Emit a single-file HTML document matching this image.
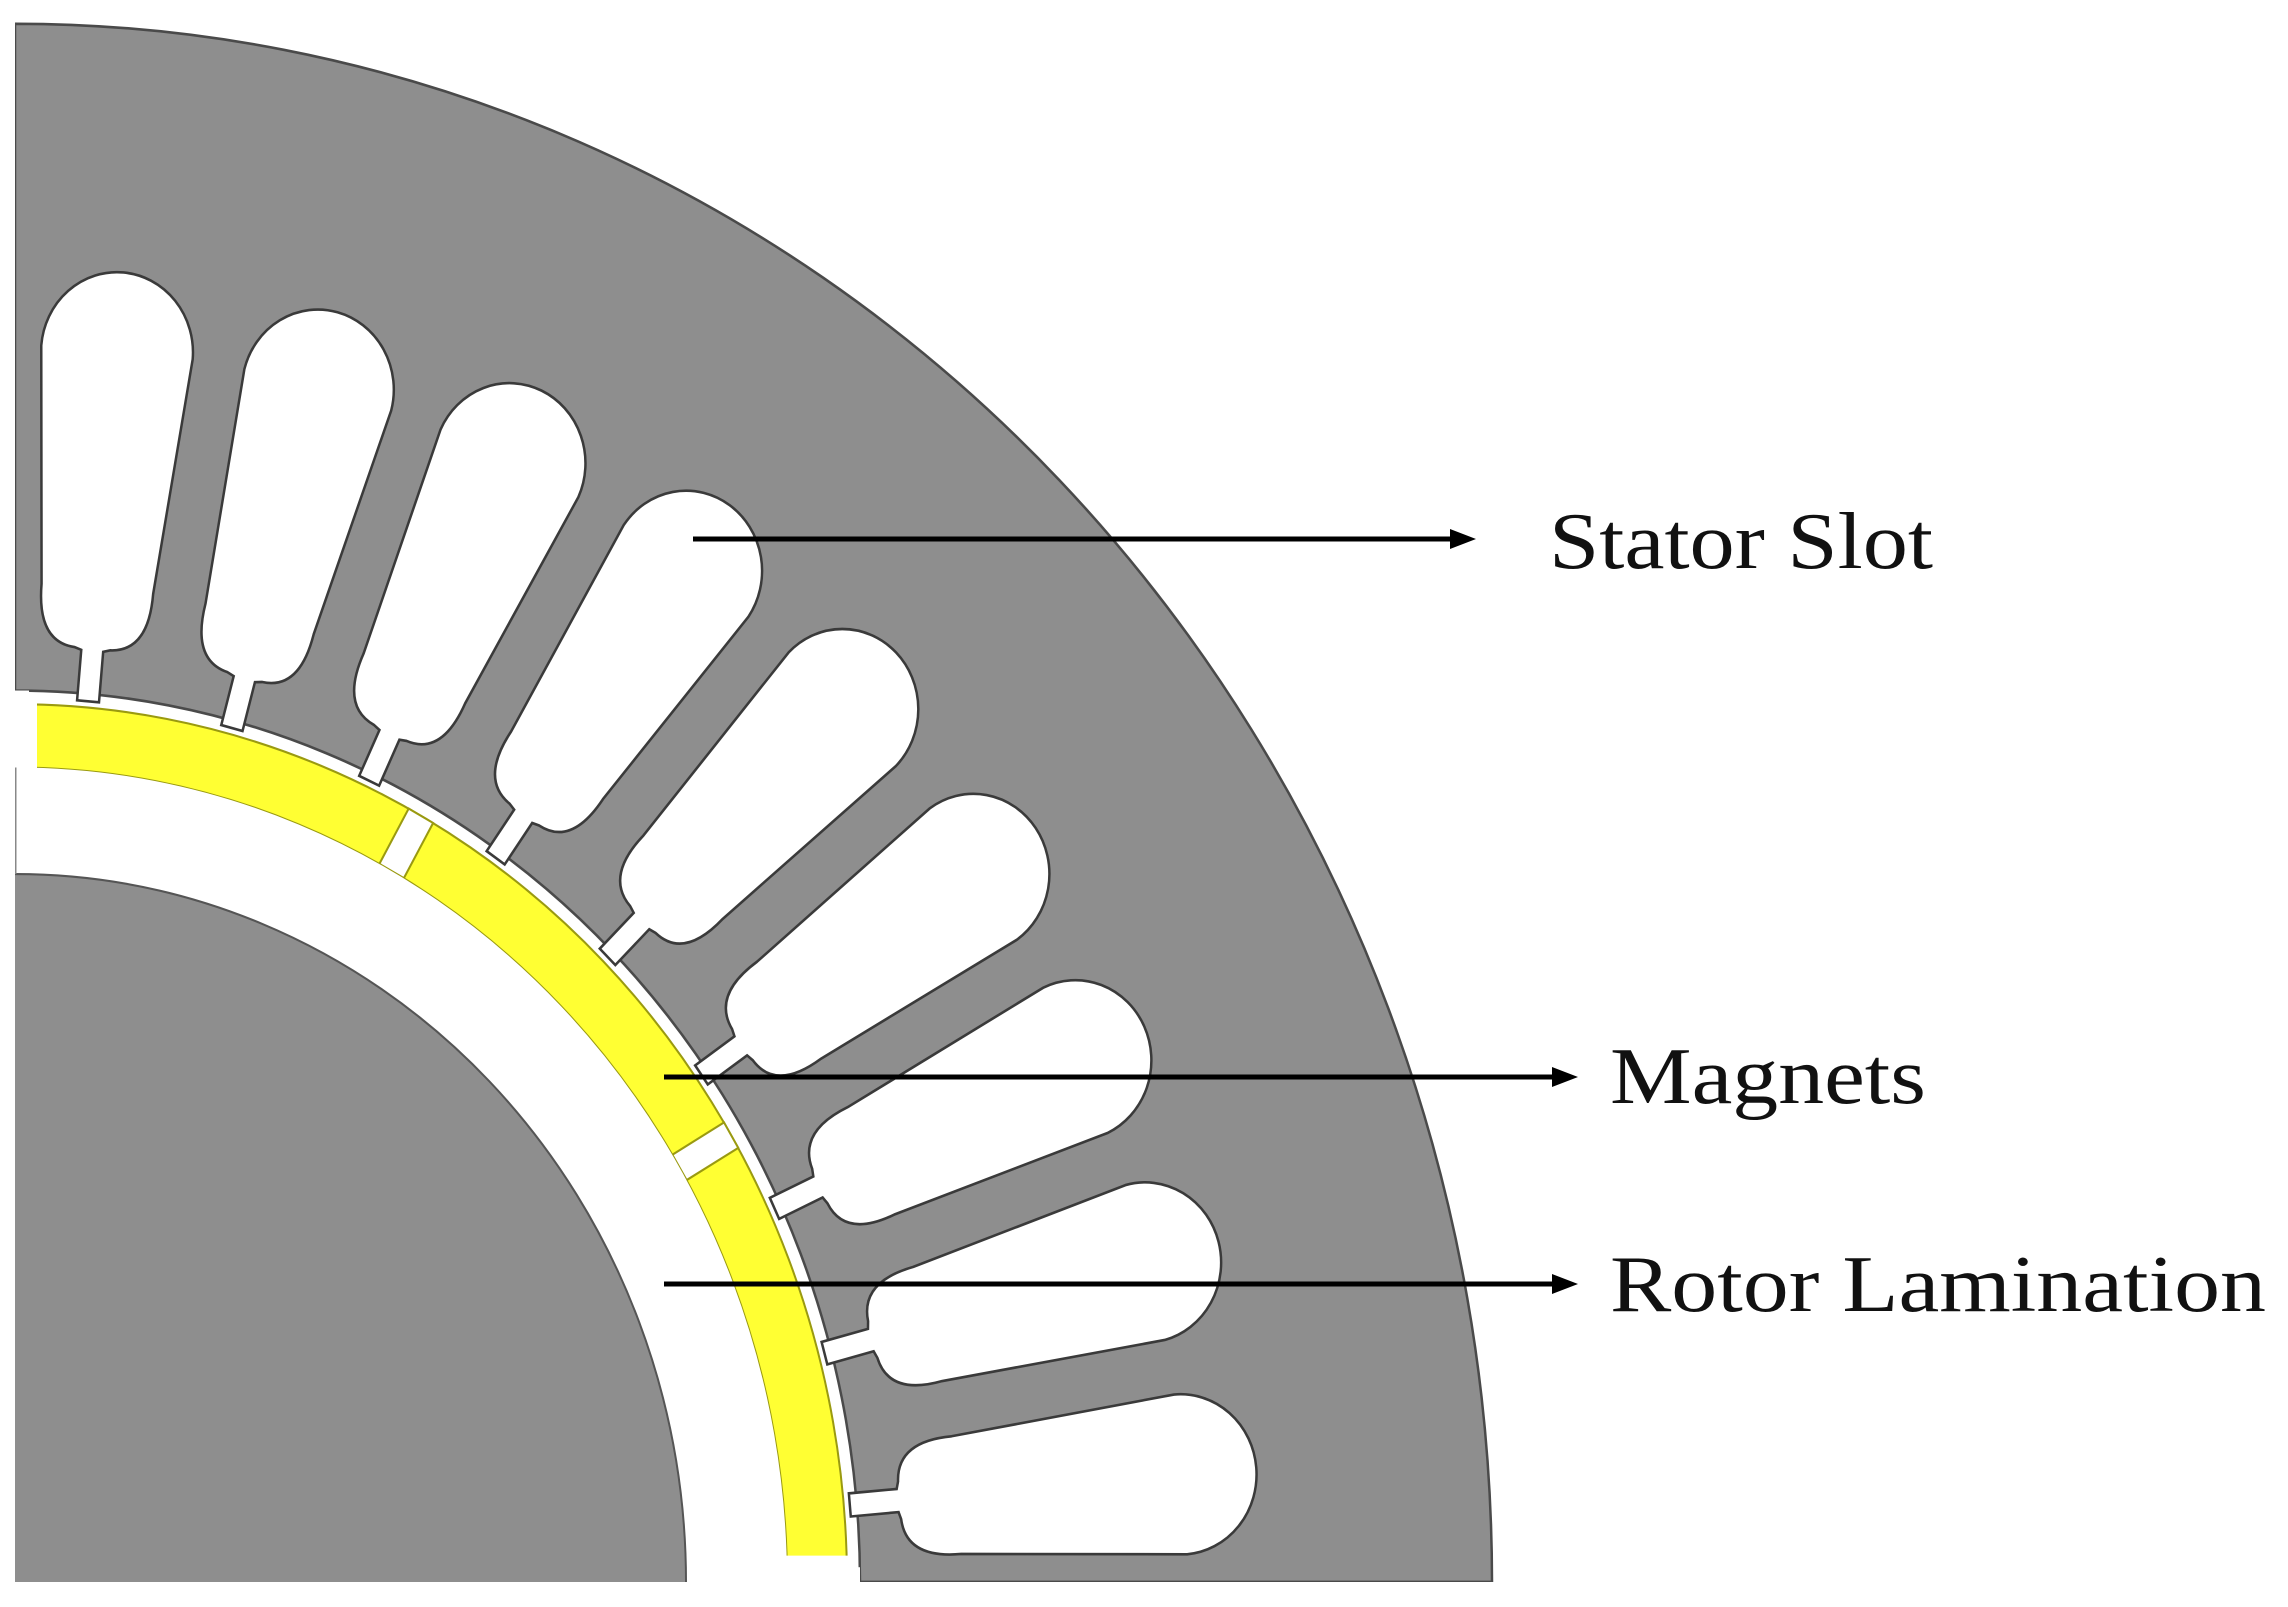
<!DOCTYPE html>
<html><head><meta charset="utf-8"><style>html,body{margin:0;padding:0;background:#fff;overflow:hidden;width:2288px;height:1607px}svg{display:block}</style></head>
<body>
<svg width="2288" height="1607" viewBox="0 0 2288 1607" xmlns="http://www.w3.org/2000/svg">
<defs>
<clipPath id="q"><rect x="0" y="0" width="1500" height="1500"/></clipPath>
<path id="slot" d="M1170,-76 A76,76 0 0 1 1170,76 L945,56 Q890,56 888,18 L886,11 L838,11 L838,-11 L886,-11 L888,-18 Q890,-56 945,-56 Z"/>
</defs>
<g transform="translate(15,1582) scale(1,-1.055)">
<g clip-path="url(#q)">
<path d="M845,0 L1477,0 A1477,1477 0 0 1 0,1477 L0,845 A845,845 0 0 0 845,0 Z" fill="#8e8e8e" stroke="#4a4a4a" stroke-width="2.5"/>
<g fill="#fff" stroke="#3a3a3a" stroke-width="2.5">
<use href="#slot" transform="rotate(5)"/>
<use href="#slot" transform="rotate(15)"/>
<use href="#slot" transform="rotate(25)"/>
<use href="#slot" transform="rotate(35)"/>
<use href="#slot" transform="rotate(45)"/>
<use href="#slot" transform="rotate(55)"/>
<use href="#slot" transform="rotate(65)"/>
<use href="#slot" transform="rotate(75)"/>
<use href="#slot" transform="rotate(85)"/>
</g>
<rect x="0" y="0" width="14" height="845" fill="#fff"/>
<rect x="0" y="0" width="845" height="14" fill="#fff"/>
<circle cx="0" cy="0" r="802" fill="none" stroke="#ffff33" stroke-width="60"/>
<circle cx="0" cy="0" r="832" fill="none" stroke="#9a9a10" stroke-width="2"/>
<circle cx="0" cy="0" r="772" fill="none" stroke="#9a9a10" stroke-width="2"/>
<g fill="#fff" stroke="#9a9a10" stroke-width="2">
<rect x="772" y="-14" width="60" height="28" transform="rotate(30.6)"/>
<rect x="772" y="-14" width="60" height="28" transform="rotate(60.8)"/>
</g>
<rect x="0" y="770" width="22" height="64" fill="#fff"/>
<rect x="770" y="0" width="64" height="25" fill="#fff"/>
<circle cx="0" cy="0" r="721.5" fill="none" stroke="#fff" stroke-width="101"/>
<circle cx="0" cy="0" r="671" fill="#8e8e8e" stroke="#555" stroke-width="2"/>
<line x1="0" y1="671" x2="0" y2="772" stroke="#888" stroke-width="3"/>
</g>
</g>
<g stroke="#000" stroke-width="5">
<line x1="693" y1="539" x2="1455" y2="539"/>
<line x1="664" y1="1077" x2="1557" y2="1077"/>
<line x1="664" y1="1284" x2="1557" y2="1284"/>
</g>
<g fill="#000">
<polygon points="1476,539 1450,529 1450,549"/>
<polygon points="1578,1077 1552,1067 1552,1087"/>
<polygon points="1578,1284 1552,1274 1552,1294"/>
</g>
<g font-family="'Liberation Serif', serif" font-size="80" fill="#111">
<text x="1549" y="568" textLength="384" lengthAdjust="spacingAndGlyphs">Stator Slot</text>
<text x="1610" y="1103" textLength="316" lengthAdjust="spacingAndGlyphs">Magnets</text>
<text x="1610" y="1311" textLength="656" lengthAdjust="spacingAndGlyphs">Rotor Lamination</text>
</g>
</svg>
</body></html>
